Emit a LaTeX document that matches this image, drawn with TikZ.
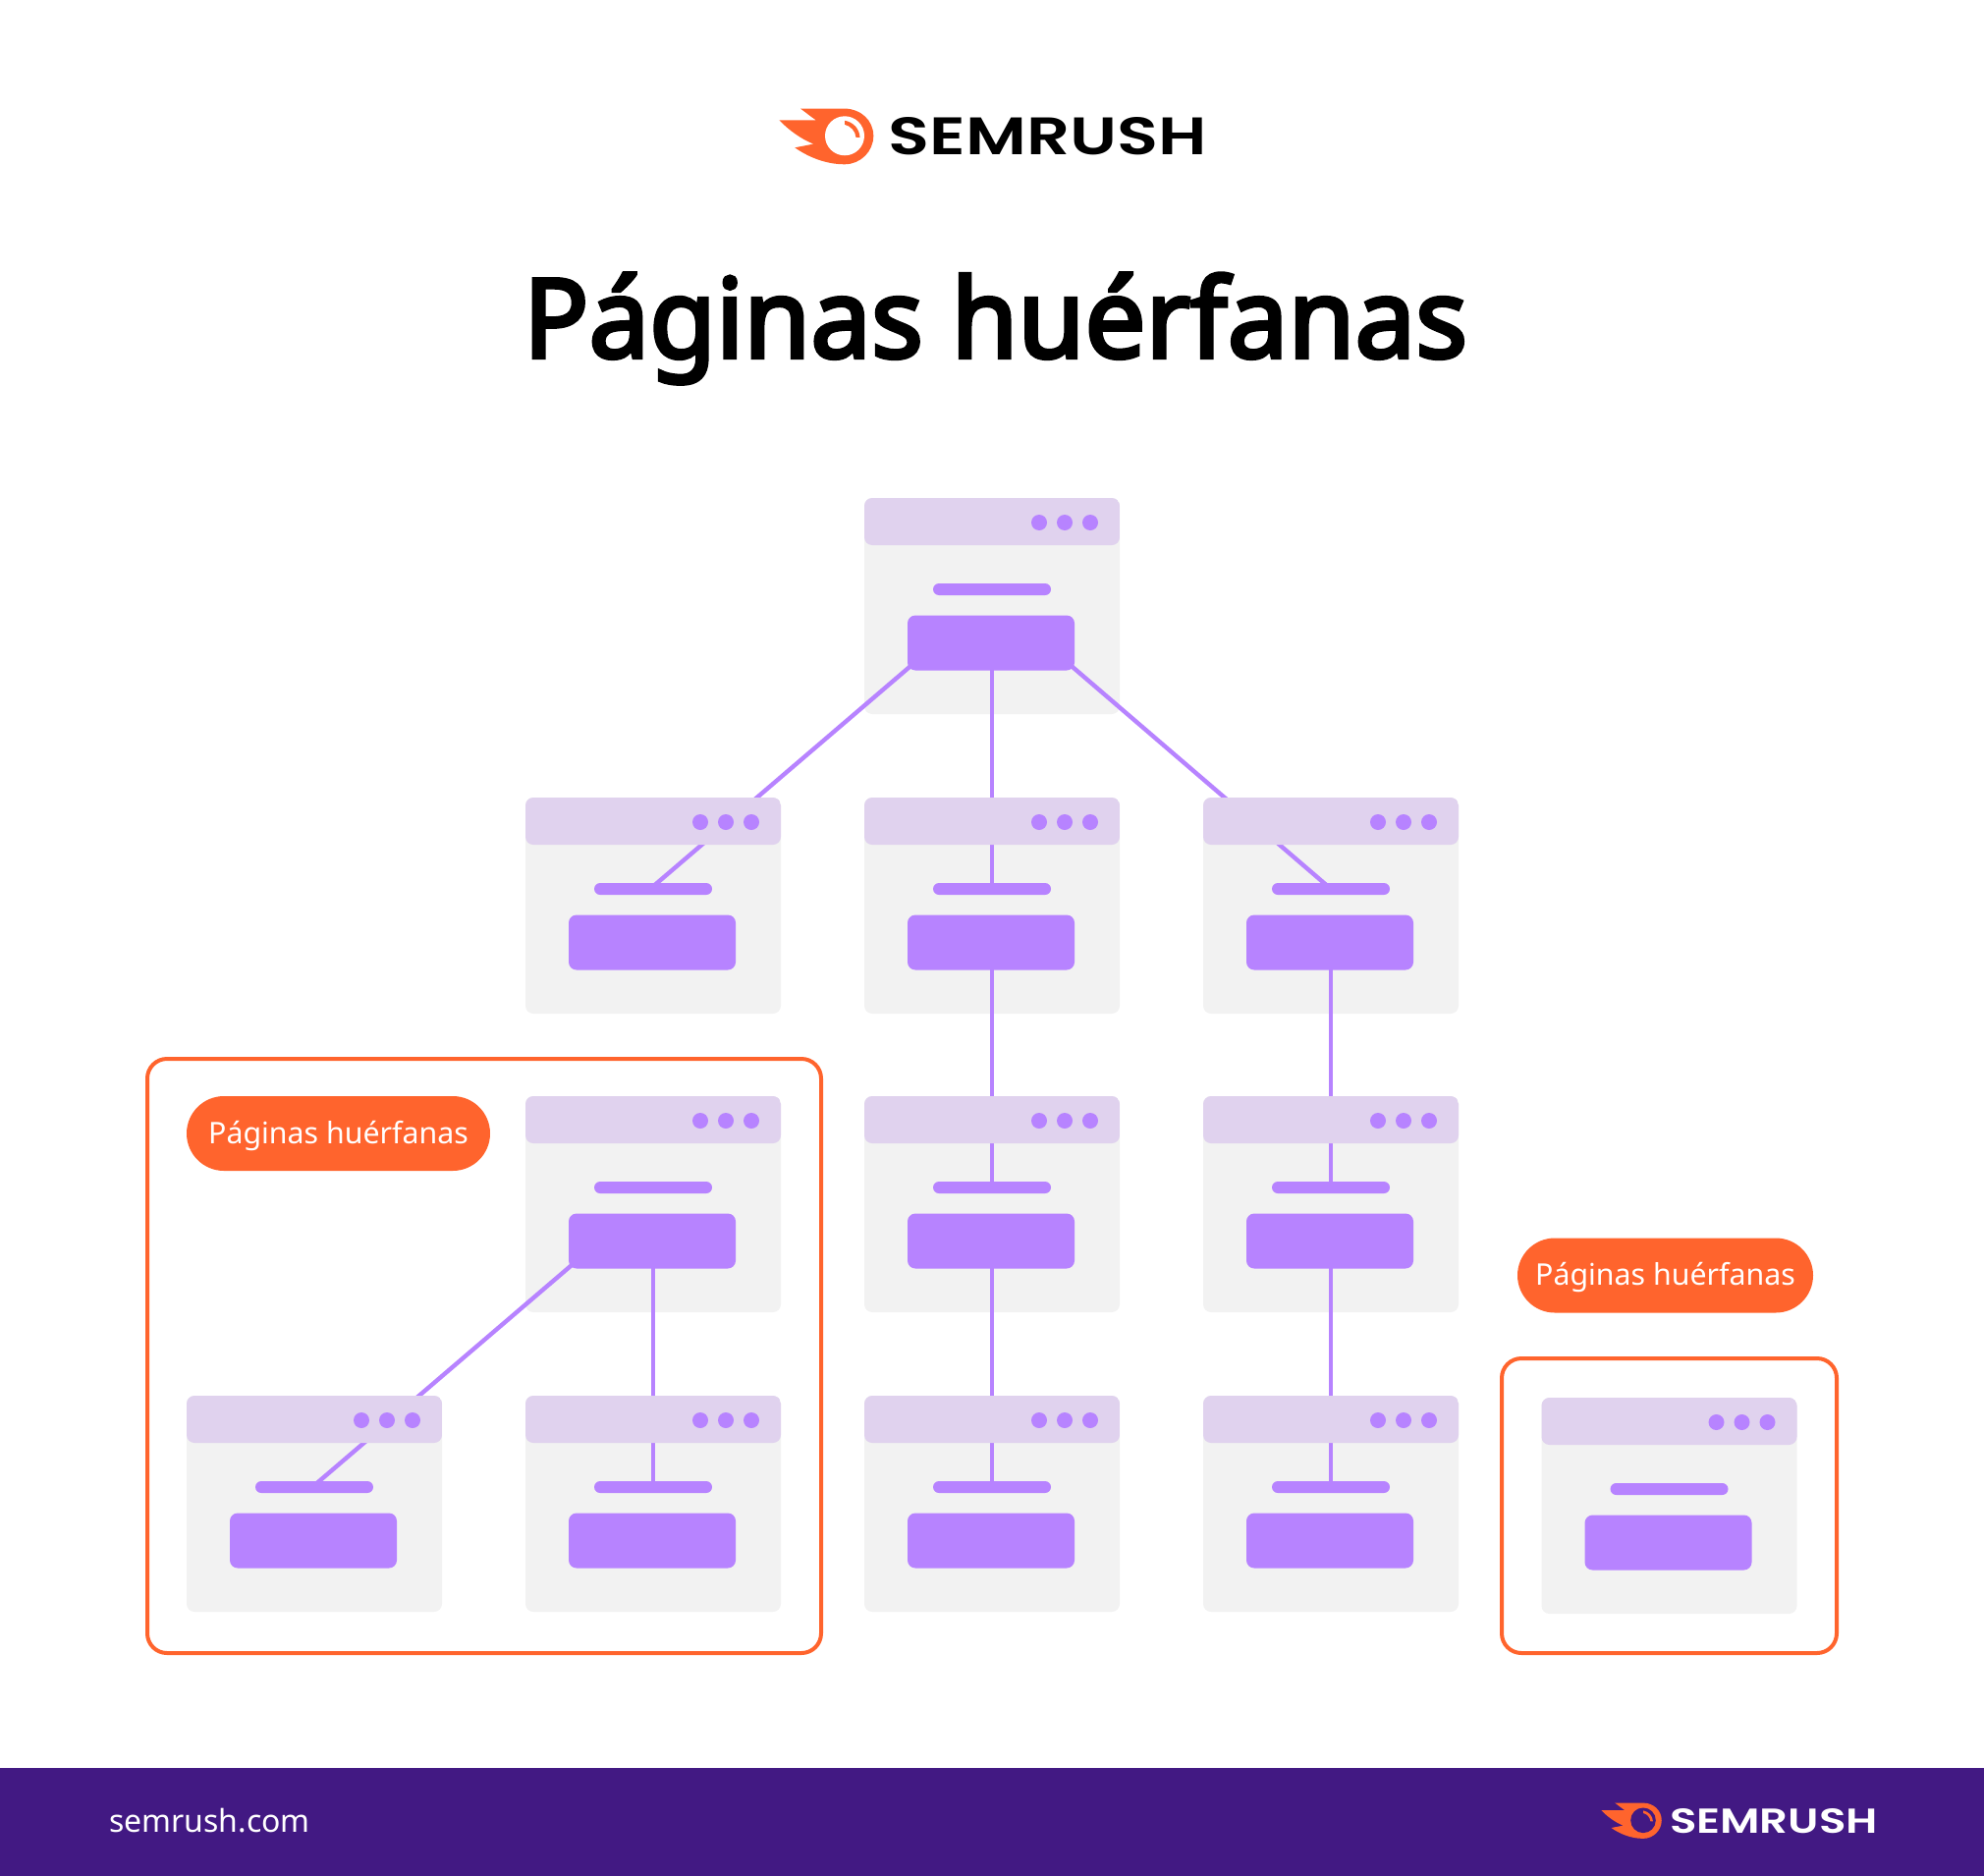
\documentclass[tikz,border=0pt]{standalone}
\usepackage{fontspec}
\setmainfont{Noto Sans}
\newfontfamily\titlefont[FakeBold=3.6]{Noto Sans}
\newfontfamily\brandfont{Poppins SemiBold}
\usetikzlibrary{backgrounds,calc}
\definecolor{flameorange}{HTML}{FF642D}
\definecolor{linkpurple}{HTML}{B783FF}
\definecolor{headlilac}{HTML}{E0D2EE}
\definecolor{cardgrey}{HTML}{F2F2F2}
\definecolor{footerpurple}{HTML}{421983}
\pgfdeclarelayer{front}
\pgfsetlayers{main,front}
\tikzset{
    pagecard/.style={rectangle,inner sep=0,outer sep=0,minimum width=260pt,minimum height=220pt,rounded corners=8pt,fill=cardgrey},
    pagehead/.style={rectangle,inner sep=0,outer sep=0,minimum width=260pt,minimum height=64pt,rounded corners=8pt,
        path picture={\fill[headlilac] (path picture bounding box.north west) rectangle ([yshift=-48pt]path picture bounding box.north east);}},
    pagedot/.style={circle,inner sep=0,outer sep=0,minimum size=16pt,fill=linkpurple},
    pagebar/.style={rectangle,inner sep=0,outer sep=0,minimum width=120pt,minimum height=12pt,rounded corners=6pt,fill=linkpurple},
    pagebtn/.style={rectangle,inner sep=0,outer sep=0,minimum width=170pt,minimum height=56pt,rounded corners=8pt,fill=linkpurple},
    link/.style={draw=linkpurple,line width=4.4pt,shorten <=-6pt},
    orphanframe/.style={rectangle,inner sep=0,outer sep=0,draw=flameorange,line width=4pt,rounded corners=20pt},
    orphanpill/.style={rectangle,inner sep=0,outer sep=0,minimum height=76pt,rounded corners=38pt,fill=flameorange,text=white,text height=20pt,text depth=0pt,font=\fontsize{30.3}{30}\selectfont},
    pics/flame/.style={code={
        \fill[flameorange] (-45,-27.7) -- (0,-27.7) .. controls (16,-27.7) and (29.3,-16) .. (29.3,0)
            .. controls (29.3,16) and (16,29) .. (0,29) .. controls (-20,29) and (-38,21) .. (-50.7,12)
            -- (-31.7,8.3) .. controls (-45,3) and (-57,-6) .. (-66.7,-16) -- (-29.3,-16) .. controls (-35,-20) and (-40,-24) .. (-45,-27.7) -- cycle;
        \fill[#1] (0,0) circle (20);
        \fill[flameorange] (0,-15.5) .. controls (9,-14) and (15,-7) .. (15.5,1.5) -- (11.5,1.5) .. controls (11,-5) and (6,-10) .. (0,-11.5) -- cycle;
    }}
}
\begin{document}
\begin{tikzpicture}[x=1pt,y=-1pt]
    \useasboundingbox (0,0) rectangle (2020,1910);
    \node[rectangle,inner sep=0,outer sep=0,minimum width=2020pt,minimum height=110pt,fill=footerpurple] (footer) at (1010,1855){};
    \pic (flame0) at (860,138.3) {flame={white}};
    \pic[scale=.64] (flame1) at (1673,1853.3) {flame={footerpurple}};
    \node[inner sep=0] (brand0) at (1067,138.3){\resizebox{324pt}{38pt}{\brandfont SEMRUSH}};
    \node[inner sep=0,text=white] (brand1) at (1806,1854.2){\resizebox{212pt}{25pt}{\brandfont SEMRUSH}};
    \node[inner sep=0,anchor=base] (title) at (1013.5,364){\resizebox{961pt}{\height}{\fontsize{112}{112}\selectfont\titlefont Páginas huérfanas}};
    \node[inner sep=0,anchor=base west,text=white] (site) at (111,1865){\fontsize{32}{32}\selectfont semrush.com};
    \node[orphanframe,minimum width=686pt,minimum height=605pt] (frame0) at (493,1380.5){};
    \node[orphanframe,minimum width=341pt,minimum height=300pt] (frame1) at (1699.5,1533){};
    \node[orphanpill,minimum width=309pt] (pill0) at (344.5,1154){Páginas huérfanas};
    \node[orphanpill,minimum width=301pt] (pill1) at (1695.5,1298.5){Páginas huérfanas};
    \node[pagecard] (card0) at (1010,617){};
    \node[pagecard] (card1) at (665,922){};
    \node[pagecard] (card2) at (1010,922){};
    \node[pagecard] (card3) at (1355,922){};
    \node[pagecard] (card4) at (665,1226){};
    \node[pagecard] (card5) at (1010,1226){};
    \node[pagecard] (card6) at (1355,1226){};
    \node[pagecard] (card7) at (320,1531){};
    \node[pagecard] (card8) at (665,1531){};
    \node[pagecard] (card9) at (1010,1531){};
    \node[pagecard] (card10) at (1355,1531){};
    \node[pagecard] (card11) at (1699.5,1533){};
    \begin{pgfonlayer}{front}
        \node[pagehead] (head0) at (1010,539){};
        \node[pagehead] (head1) at (665,844){};
        \node[pagehead] (head2) at (1010,844){};
        \node[pagehead] (head3) at (1355,844){};
        \node[pagehead] (head4) at (665,1148){};
        \node[pagehead] (head5) at (1010,1148){};
        \node[pagehead] (head6) at (1355,1148){};
        \node[pagehead] (head7) at (320,1453){};
        \node[pagehead] (head8) at (665,1453){};
        \node[pagehead] (head9) at (1010,1453){};
        \node[pagehead] (head10) at (1355,1453){};
        \node[pagehead] (head11) at (1699.5,1455){};
        \node[pagebar] (bar0) at (1010,600){};
        \node[pagebar] (bar1) at (665,905){};
        \node[pagebar] (bar2) at (1010,905){};
        \node[pagebar] (bar3) at (1355,905){};
        \node[pagebar] (bar4) at (665,1209){};
        \node[pagebar] (bar5) at (1010,1209){};
        \node[pagebar] (bar6) at (1355,1209){};
        \node[pagebar] (bar7) at (320,1514){};
        \node[pagebar] (bar8) at (665,1514){};
        \node[pagebar] (bar9) at (1010,1514){};
        \node[pagebar] (bar10) at (1355,1514){};
        \node[pagebar] (bar11) at (1699.5,1516){};
        \node[pagebtn] (btn0) at (1009,654.5){};
        \node[pagebtn] (btn1) at (664,959.5){};
        \node[pagebtn] (btn2) at (1009,959.5){};
        \node[pagebtn] (btn3) at (1354,959.5){};
        \node[pagebtn] (btn4) at (664,1263.5){};
        \node[pagebtn] (btn5) at (1009,1263.5){};
        \node[pagebtn] (btn6) at (1354,1263.5){};
        \node[pagebtn] (btn7) at (319,1568.5){};
        \node[pagebtn] (btn8) at (664,1568.5){};
        \node[pagebtn] (btn9) at (1009,1568.5){};
        \node[pagebtn] (btn10) at (1354,1568.5){};
        \node[pagebtn] (btn11) at (1698.5,1570.5){};
        \node[pagedot] (dot0a) at (1058,532){};
        \node[pagedot] (dot0b) at (1084,532){};
        \node[pagedot] (dot0c) at (1110,532){};
        \node[pagedot] (dot1a) at (713,837){};
        \node[pagedot] (dot1b) at (739,837){};
        \node[pagedot] (dot1c) at (765,837){};
        \node[pagedot] (dot2a) at (1058,837){};
        \node[pagedot] (dot2b) at (1084,837){};
        \node[pagedot] (dot2c) at (1110,837){};
        \node[pagedot] (dot3a) at (1403,837){};
        \node[pagedot] (dot3b) at (1429,837){};
        \node[pagedot] (dot3c) at (1455,837){};
        \node[pagedot] (dot4a) at (713,1141){};
        \node[pagedot] (dot4b) at (739,1141){};
        \node[pagedot] (dot4c) at (765,1141){};
        \node[pagedot] (dot5a) at (1058,1141){};
        \node[pagedot] (dot5b) at (1084,1141){};
        \node[pagedot] (dot5c) at (1110,1141){};
        \node[pagedot] (dot6a) at (1403,1141){};
        \node[pagedot] (dot6b) at (1429,1141){};
        \node[pagedot] (dot6c) at (1455,1141){};
        \node[pagedot] (dot7a) at (368,1446){};
        \node[pagedot] (dot7b) at (394,1446){};
        \node[pagedot] (dot7c) at (420,1446){};
        \node[pagedot] (dot8a) at (713,1446){};
        \node[pagedot] (dot8b) at (739,1446){};
        \node[pagedot] (dot8c) at (765,1446){};
        \node[pagedot] (dot9a) at (1058,1446){};
        \node[pagedot] (dot9b) at (1084,1446){};
        \node[pagedot] (dot9c) at (1110,1446){};
        \node[pagedot] (dot10a) at (1403,1446){};
        \node[pagedot] (dot10b) at (1429,1446){};
        \node[pagedot] (dot10c) at (1455,1446){};
        \node[pagedot] (dot11a) at (1747.5,1448){};
        \node[pagedot] (dot11b) at (1773.5,1448){};
        \node[pagedot] (dot11c) at (1799.5,1448){};
    \end{pgfonlayer}
    \draw[link] ([xshift=-2pt]btn0.south west) -- ([xshift=-3pt]bar1.center);
    \draw[link] ([xshift=1pt]btn0.south) -- (bar2.center);
    \draw[link] ([xshift=2pt]btn0.south east) -- (bar3.center);
    \draw[link] ([xshift=1pt]btn2.south) -- (bar5.center);
    \draw[link] ([xshift=1pt]btn3.south) -- (bar6.center);
    \draw[link] ([xshift=-1pt]btn4.south west) -- ([xshift=-2pt]bar7.center);
    \draw[link] ([xshift=1pt]btn4.south) -- (bar8.center);
    \draw[link] ([xshift=1pt]btn5.south) -- (bar9.center);
    \draw[link] ([xshift=1pt]btn6.south) -- (bar10.center);
\end{tikzpicture}
\end{document}
